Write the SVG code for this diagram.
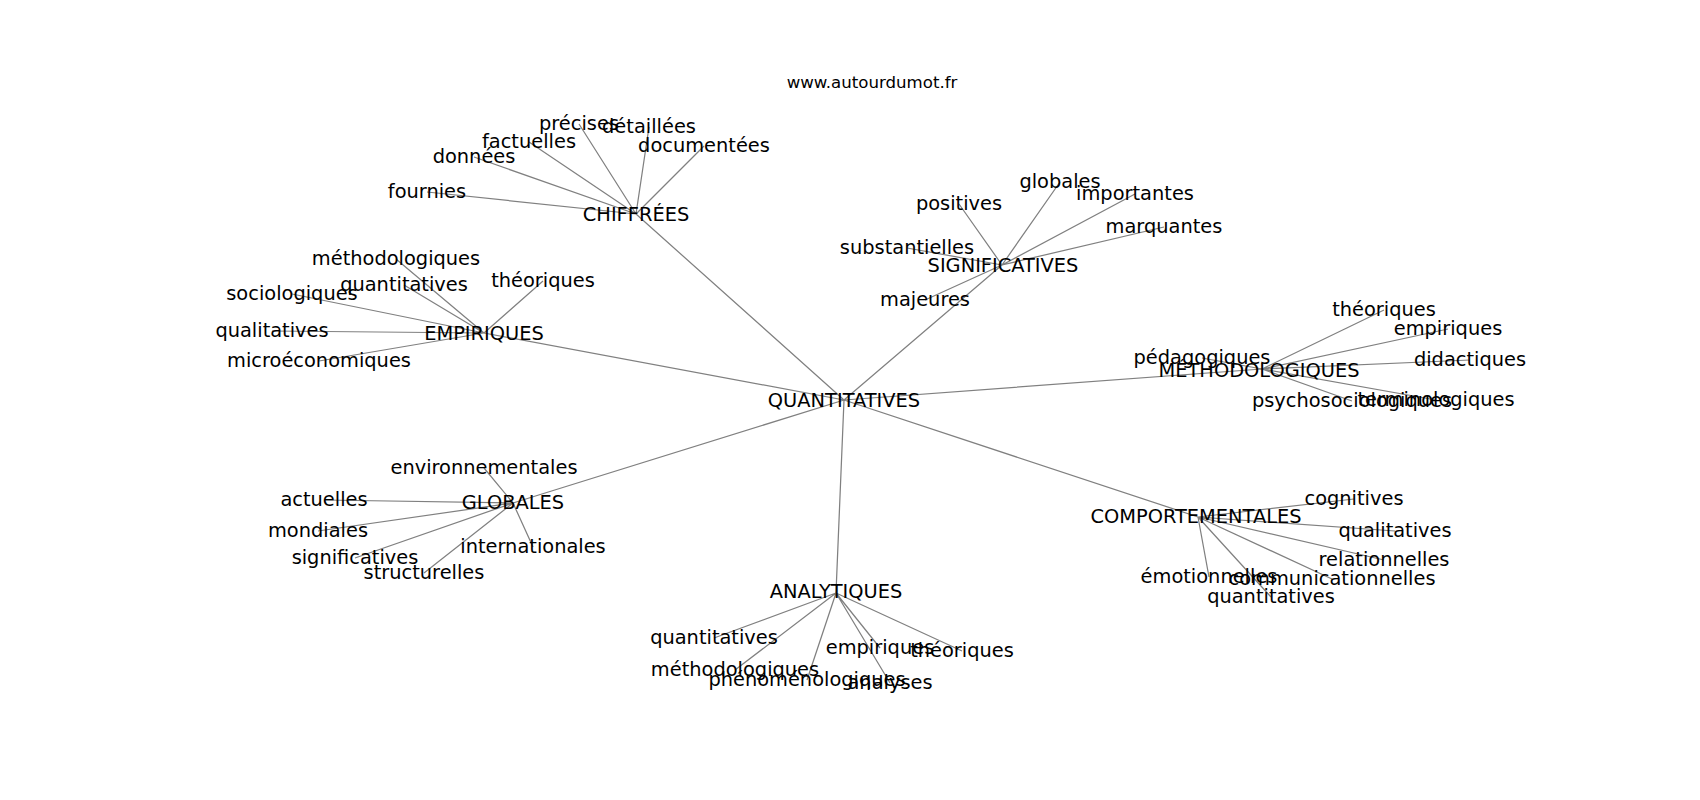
<svg xmlns="http://www.w3.org/2000/svg" width="1700" height="800" viewBox="0 0 1700 800">
<style>
.e{stroke:#808080;stroke-width:1.25;fill:none}
text{font-family:"DejaVu Sans",sans-serif;font-size:19.4px;fill:#000;text-anchor:middle}
.t{font-size:16.6px}
</style>
<rect width="1700" height="800" fill="#fff"/>
<text class="t" x="872" y="88">www.autourdumot.fr</text>
<g id="connectors">
<path class="e" d="M844,400L636,214M844,400L484,333M844,400L1002,265M844,400L1262,369M844,400L1198,517M844,400L836,593M844,400L513,503"/>
<path class="e" d="M636,214L579,124M636,214L649,127M636,214L529,142M636,214L474,157M636,214L704,146M636,214L427,192"/>
<path class="e" d="M484,333L396,259M484,333L404,285M484,333L543,281M484,333L292,294M484,333L272,331M484,333L319,361"/>
<path class="e" d="M1002,265L959,204M1002,265L1060,182M1002,265L1135,194M1002,265L1164,227M1002,265L907,248M1002,265L925,300"/>
<path class="e" d="M1262,369L1384,310M1262,369L1448,329M1262,369L1470,360M1262,369L1436,400M1262,369L1352,401M1262,369L1202,358"/>
<path class="e" d="M1198,517L1354,499M1198,517L1395,531M1198,517L1384,560M1198,517L1332,579M1198,517L1209,577M1198,517L1271,597"/>
<path class="e" d="M836,593L714,638M836,593L735,670M836,593L807,680M836,593L880,648M836,593L962,651M836,593L890,683"/>
<path class="e" d="M513,503L484,468M513,503L324,500M513,503L318,531M513,503L355,558M513,503L424,573M513,503L533,547"/>
</g>
<g id="n-quantitatives"><text x="844" y="407">QUANTITATIVES</text></g>
<g id="n-chiffrees"><text x="636" y="221">CHIFFRÉES</text></g>
<g id="n-empiriques"><text x="484" y="340">EMPIRIQUES</text></g>
<g id="n-significatives"><text x="1003" y="272">SIGNIFICATIVES</text></g>
<g id="n-methodologiques"><text x="1259" y="377">MÉTHODOLOGIQUES</text></g>
<g id="n-comportementales"><text x="1196" y="523">COMPORTEMENTALES</text></g>
<g id="n-analytiques"><text x="836" y="598">ANALYTIQUES</text></g>
<g id="n-globales"><text x="513" y="509">GLOBALES</text></g>
<g id="l-chiffrees">
<text x="579" y="130">précises</text>
<text x="649" y="133">détaillées</text>
<text x="529" y="148">factuelles</text>
<text x="474" y="163">données</text>
<text x="704" y="152">documentées</text>
<text x="427" y="198">fournies</text>
</g>
<g id="l-empiriques">
<text x="396" y="265">méthodologiques</text>
<text x="404" y="291">quantitatives</text>
<text x="543" y="287">théoriques</text>
<text x="292" y="300">sociologiques</text>
<text x="272" y="337">qualitatives</text>
<text x="319" y="367">microéconomiques</text>
</g>
<g id="l-significatives">
<text x="959" y="210">positives</text>
<text x="1060" y="188">globales</text>
<text x="1135" y="200">importantes</text>
<text x="1164" y="233">marquantes</text>
<text x="907" y="254">substantielles</text>
<text x="925" y="306">majeures</text>
</g>
<g id="l-methodologiques">
<text x="1384" y="316">théoriques</text>
<text x="1448" y="335">empiriques</text>
<text x="1470" y="366">didactiques</text>
<text x="1436" y="406">terminologiques</text>
<text x="1352" y="407">psychosociologiques</text>
<text x="1202" y="364">pédagogiques</text>
</g>
<g id="l-comportementales">
<text x="1354" y="505">cognitives</text>
<text x="1395" y="537">qualitatives</text>
<text x="1384" y="566">relationnelles</text>
<text x="1332" y="585">communicationnelles</text>
<text x="1209" y="583">émotionnelles</text>
<text x="1271" y="603">quantitatives</text>
</g>
<g id="l-analytiques">
<text x="714" y="644">quantitatives</text>
<text x="735" y="676">méthodologiques</text>
<text x="807" y="686">phénoménologiques</text>
<text x="880" y="654">empiriques</text>
<text x="962" y="657">théoriques</text>
<text x="890" y="689">analyses</text>
</g>
<g id="l-globales">
<text x="484" y="474">environnementales</text>
<text x="324" y="506">actuelles</text>
<text x="318" y="537">mondiales</text>
<text x="355" y="564">significatives</text>
<text x="424" y="579">structurelles</text>
<text x="533" y="553">internationales</text>
</g>
</svg>
